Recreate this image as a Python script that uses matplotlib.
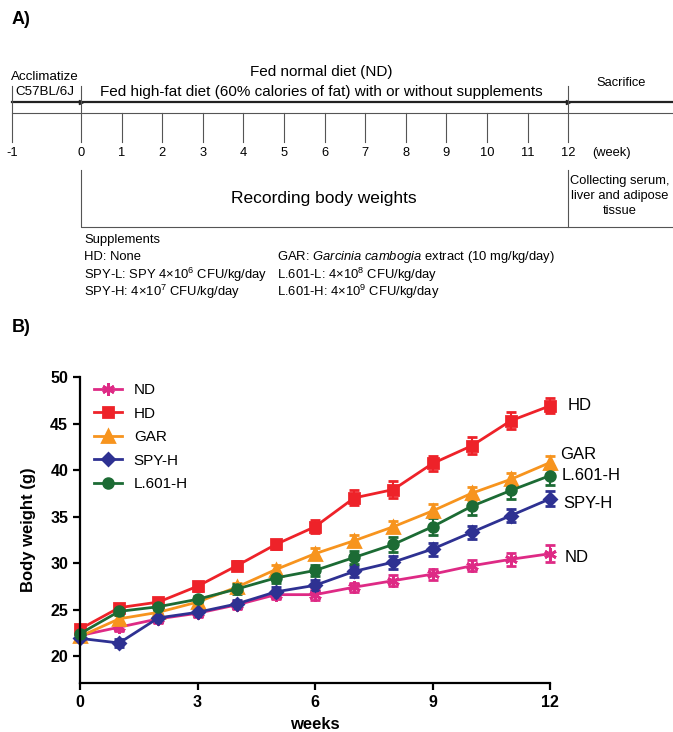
import matplotlib
matplotlib.use('Agg')
import matplotlib.pyplot as plt
import numpy as np

plt.rcParams['font.family'] = ['Liberation Sans', 'DejaVu Sans']
plt.rcParams['mathtext.fontset'] = 'custom'
plt.rcParams['mathtext.rm'] = 'Liberation Sans'
plt.rcParams['mathtext.it'] = 'Liberation Sans:italic'
plt.rcParams['mathtext.bf'] = 'Liberation Sans:bold'

# ---- body weight data (g) ----
weeks = np.arange(13)
nd = [22.2, 23.1, 24.0, 24.6, 25.5, 26.6, 26.6, 27.4, 28.1, 28.8, 29.7, 30.4, 31.0]
hd = [22.9, 25.2, 25.8, 27.5, 29.7, 32.0, 33.9, 37.0, 37.9, 40.7, 42.6, 45.3, 46.9]
gar = [22.1, 24.0, 24.7, 25.8, 27.4, 29.3, 31.0, 32.4, 33.9, 35.6, 37.5, 39.0, 40.8]
spy_h = [21.9, 21.4, 24.1, 24.7, 25.6, 26.9, 27.6, 29.1, 30.1, 31.5, 33.3, 35.1, 36.9]
l601_h = [22.4, 24.8, 25.3, 26.1, 27.2, 28.4, 29.2, 30.6, 32.0, 33.9, 36.1, 37.8, 39.4]

nd_err = [0.3, 0.4, 0.4, 0.4, 0.4, 0.5, 0.6, 0.5, 0.6, 0.6, 0.6, 0.7, 0.9]
hd_err = [0.3, 0.4, 0.4, 0.5, 0.5, 0.5, 0.7, 0.8, 0.9, 0.8, 0.9, 0.9, 0.8]
gar_err = [0.3, 0.4, 0.4, 0.4, 0.5, 0.5, 0.6, 0.6, 0.6, 0.7, 0.7, 0.7, 0.7]
spy_h_err = [0.3, 0.4, 0.4, 0.4, 0.4, 0.5, 0.6, 0.6, 0.7, 0.7, 0.7, 0.7, 0.8]
l601_h_err = [0.3, 0.4, 0.4, 0.4, 0.5, 0.5, 0.6, 0.7, 0.8, 0.9, 0.9, 0.9, 1.0]

groups = ['ND', 'HD', 'GAR', 'SPY-H', 'L.601-H']
series = [nd, hd, gar, spy_h, l601_h]
errs = [nd_err, hd_err, gar_err, spy_h_err, l601_h_err]
colours = ['#DE2A85', '#EE2229', '#F7941E', '#2E3192', '#1C6B34']
markers = [(6, 2, 0), 's', '^', 'D', 'o']
msizes = [9, 7.5, 8, 6.5, 7]

# ---- schedule timeline ----
timeline_weeks = list(range(-1, 13))
supplements_left = ['Supplements',
                    'HD: None',
                    r'SPY-L: SPY 4×10$^{6}$ CFU/kg/day',
                    r'SPY-H: 4×10$^{7}$ CFU/kg/day']
supplements_right = ['',
                     r'GAR: $\it{Garcinia\ cambogia}$ extract (10 mg/kg/day)',
                     r'L.601-L: 4×10$^{8}$ CFU/kg/day',
                     r'L.601-H: 4×10$^{9}$ CFU/kg/day']

W, H = 673, 732
fig = plt.figure(figsize=(W / 100, H / 100), dpi=100)

# panel A is laid out on a pixel grid
top = fig.add_axes([0, 0, 1, 1])
top.set_xlim(0, W)
top.set_ylim(H, 0)
top.axis('off')


def tx(w):
    return 11.7 if w < 0 else 81 + 40.6 * w


grey = '#555555'
top.text(12, 20, 'A)', fontsize=13, fontweight='bold', va='center')
top.plot([tx(-1), W], [101.7, 101.7], color='#222222', lw=1.6)
top.plot([tx(-1), W], [113.3, 113.3], color=grey, lw=0.8)
top.plot([tx(0), tx(12)], [101.7, 101.7], ls='none', marker='>', ms=3, color='#222222')
for w in timeline_weeks:
    y0 = 86 if w in (-1, 0, 12) else 113.3
    top.plot([tx(w), tx(w)], [y0, 141.5], color=grey, lw=0.8)
    top.text(tx(w), 153, str(w), fontsize=9.3, ha='center', va='center')
top.text(612, 153, '(week)', fontsize=9.3, ha='center', va='center')
top.text(45, 77, 'Acclimatize', fontsize=9.6, ha='center', va='center')
top.text(45, 92, 'C57BL/6J', fontsize=9.6, ha='center', va='center')
top.text(321, 72, 'Fed normal diet (ND)', fontsize=11, ha='center', va='center')
top.text(321, 92, 'Fed high-fat diet (60% calories of fat) with or without supplements',
         fontsize=11, ha='center', va='center')
top.text(621, 83, 'Sacrifice', fontsize=9.3, ha='center', va='center')

top.plot([tx(0), tx(0), W], [170, 227, 227], color=grey, lw=0.8)
top.plot([tx(12), tx(12)], [170, 227], color=grey, lw=0.8)
top.text(324, 199, 'Recording body weights', fontsize=12.5, ha='center', va='center')
for i, line in enumerate(['Collecting serum,', 'liver and adipose', 'tissue']):
    top.text(620, 181 + 15 * i, line, fontsize=9.3, ha='center', va='center')

for i, (left, right) in enumerate(zip(supplements_left, supplements_right)):
    y = 239.5 + 17.6 * i
    top.text(84, y, left, fontsize=9.4, va='center')
    if right:
        top.text(277, y, right, fontsize=9.4, va='center')

top.text(12, 328, 'B)', fontsize=13, fontweight='bold', va='center')

# ---- panel B: body weight curves ----
ax = fig.add_axes([80 / W, 1 - 683 / H, 470 / W, 306 / H])
handles = []
for name, vals, err, c, m, ms in zip(groups, series, errs, colours, markers, msizes):
    ax.errorbar(weeks, vals, yerr=err, color=c, lw=2, marker=m, ms=ms, mew=2,
                capsize=3.5, capthick=1.5, elinewidth=1.5, clip_on=False)
    handles.append(plt.Line2D([], [], color=c, lw=2, marker=m, ms=ms, mew=2))

ax.set_xlim(0, 12)
ax.set_ylim(17.1, 50)
ax.set_xticks([0, 3, 6, 9, 12])
ax.set_yticks([20, 25, 30, 35, 40, 45, 50])
for s in ['top', 'right']:
    ax.spines[s].set_visible(False)
ax.spines['left'].set_bounds(17.1, 50)
for s in ['left', 'bottom']:
    ax.spines[s].set_linewidth(1.6)
ax.tick_params(width=1.6, length=5, labelsize=11.5)
for lab in ax.get_xticklabels() + ax.get_yticklabels():
    lab.set_fontweight('bold')
ax.set_xlabel('weeks', fontsize=12, fontweight='bold', labelpad=5)
ax.set_ylabel('Body weight (g)', fontsize=12, fontweight='bold', labelpad=10)

ax.legend(handles, groups, loc='upper left', bbox_to_anchor=(0.03, 0.98),
          frameon=False, fontsize=11, handlelength=1.8, handletextpad=0.8,
          labelspacing=0.62, borderpad=0, borderaxespad=0)

# group names at the end of each curve (offsets in px)
end_offsets = {'HD': (18, 0), 'GAR': (10, 8), 'L.601-H': (12, 0),
               'SPY-H': (13, -5), 'ND': (15, -4)}
for name, vals in zip(groups, series):
    dx, dy = end_offsets[name]
    ax.annotate(name, (weeks[-1], vals[-1]), xytext=(dx / 1.389, dy / 1.389),
                textcoords='offset points', fontsize=12, va='center', ha='left')

fig.savefig('out.png', dpi=100)
